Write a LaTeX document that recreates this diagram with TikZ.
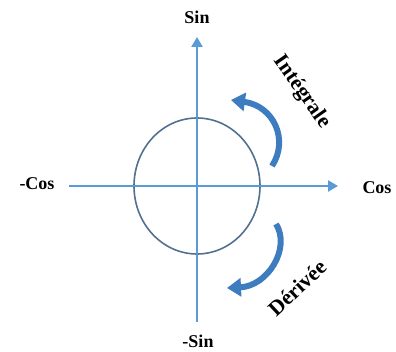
\documentclass[tikz,border=0pt]{standalone}
\usepackage{fontspec}
\setmainfont{Liberation Serif}
\usetikzlibrary{arrows.meta}
\definecolor{axisblue}{HTML}{5B9BD5}
\definecolor{ringblue}{HTML}{52708F}
\definecolor{turnblue}{HTML}{3E7CC0}
\tikzset{
  axisline/.style={draw=axisblue, line width=2.6pt, -{Triangle[length=10pt,width=11pt]}},
  ringline/.style={draw=ringblue, line width=1.6pt},
  turnarrow/.style={draw=turnblue, line width=6pt, -{Triangle[length=14pt,width=18pt]}},
  lbl/.style={font=\bfseries\fontsize{18}{21}\selectfont, inner sep=0pt},
  biglbl/.style={font=\bfseries\fontsize{21.5}{24}\selectfont, inner sep=0pt}
}
\begin{document}
\begin{tikzpicture}
\begin{scope}[x=1pt, y=-1pt, line cap=butt, line join=round]
  \useasboundingbox (0,0) rectangle (396,352);
  % Axis end points
  \coordinate (O) at (197,186);
  \coordinate (xneg) at (69,186);
  \coordinate (xpos) at (338,186);
  \coordinate (ypos) at (197,37);
  \coordinate (yneg) at (197,322);
  % Unit circle
  \draw[ringline] (O) ellipse [x radius=63, y radius=68];
  % Axes
  \draw[axisline] (xneg) -- (xpos);
  \draw[axisline] (yneg) -- (ypos);
  % Axis labels
  \node[lbl] (sinlbl) at (197,17) {Sin};
  \node[lbl] (msinlbl) at (198,341) {-Sin};
  \node[lbl] (mcoslbl) at (37,184) {-Cos};
  \node[lbl] (coslbl) at (377,188) {Cos};
  % Turning arrows
  \coordinate (intTail) at (272,166);
  \coordinate (intHead) at (231,100);
  \coordinate (derTail) at (276,224);
  \coordinate (derHead) at (227,288);
  \draw[turnarrow] (intTail) .. controls (289,140) and (274,106) .. (intHead);
  \draw[turnarrow] (derTail) .. controls (291,248) and (268,286) .. (derHead);
  \node[biglbl, rotate=-55] (intlbl) at (302,92) {Intégrale};
  \node[biglbl, rotate=43] (derlbl) at (297,288) {Dérivée};
\end{scope}
\end{tikzpicture}
\end{document}
